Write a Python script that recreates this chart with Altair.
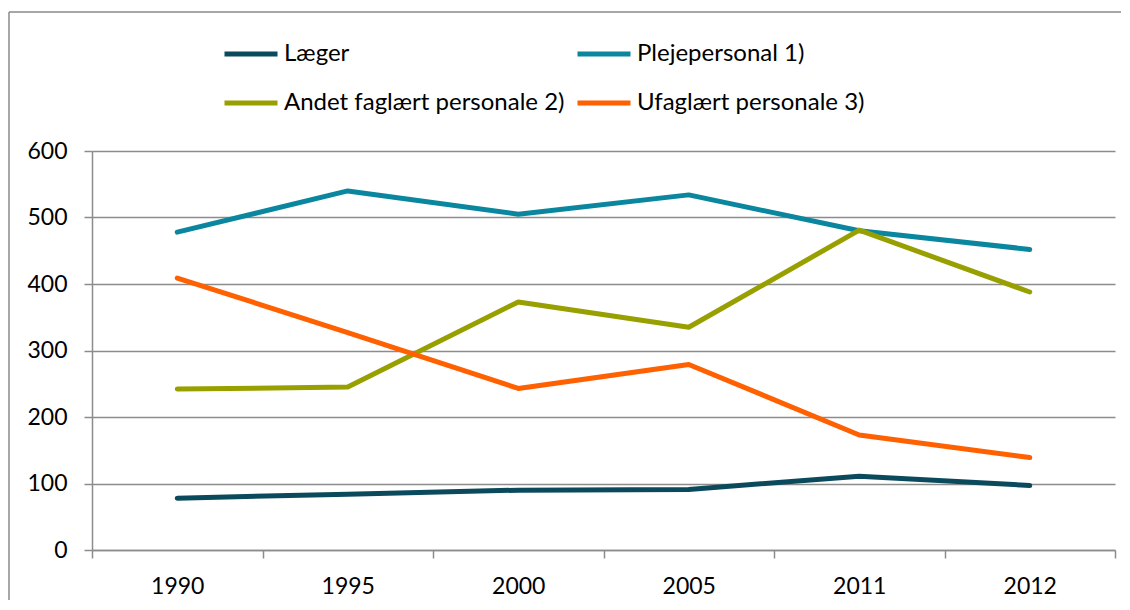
import altair as alt
import pandas as pd

years = ["1990", "1995", "2000", "2005", "2011", "2012"]
series = ["Læger", "Plejepersonal 1)", "Andet faglært personale 2)", "Ufaglært personale 3)"]
laeger = [78, 84, 90, 91, 111, 97]
pleje = [478, 540, 505, 534, 480, 452]
andet = [242, 245, 373, 335, 481, 388]
ufaglaert = [409, 327, 243, 279, 173, 139]
colors = ["#0B4A5C", "#0A879E", "#98A000", "#FF6000"]
y_ticks = [0, 100, 200, 300, 400, 500, 600]

rows = []
for name, vals in zip(series, [laeger, pleje, andet, ufaglaert]):
    for yr, v in zip(years, vals):
        rows.append({"year": yr, "series": name, "value": v})
df = pd.DataFrame(rows)

# legend fills column by column: order so that rows read Læger | Pleje, Andet | Ufaglært
legend_order = [series[0], series[2], series[1], series[3]]
legend_colors = [colors[0], colors[2], colors[1], colors[3]]

W, H = 1023, 399
RIGHT_PAD = 6
FONT = "Lato"
GRID = "#8c8c8c"
FRAME = "#8a8a8a"

lines = alt.Chart(df).mark_line(strokeWidth=5, strokeCap="round", strokeJoin="round").encode(
    x=alt.X("year:N", sort=years, bandPosition=0.5,
            scale=alt.Scale(type="band", paddingInner=0, paddingOuter=0),
            axis=alt.Axis(title=None, tickBand="extent", labelAngle=0, grid=False,
                          domainColor=GRID, domainWidth=1.5, tickColor=GRID, tickWidth=1.5,
                          tickSize=8, labelFont=FONT, labelFontSize=23, labelColor="#000",
                          labelPadding=17)),
    y=alt.Y("value:Q", scale=alt.Scale(domain=[0, 600], nice=False),
            axis=alt.Axis(title=None, values=y_ticks, grid=True, gridColor=GRID, gridWidth=1.5,
                          domainColor=GRID, domainWidth=1.5, tickColor=GRID, tickWidth=1.5,
                          tickSize=8, labelFont=FONT, labelFontSize=23, labelColor="#000",
                          labelPadding=17)),
    color=alt.Color("series:N", sort=legend_order,
                    scale=alt.Scale(domain=legend_order, range=legend_colors),
                    legend=alt.Legend(title=None, orient="none", legendX=130, legendY=-126,
                                      columns=2, symbolType="stroke", symbolSize=2809,
                                      symbolStrokeWidth=5, labelFont=FONT, labelFontSize=24,
                                      labelColor="#000", labelOffset=4, labelLimit=0,
                                      rowPadding=8, columnPadding=2)),
    detail="series:N",
)

frame_df = pd.DataFrame({"f": [0]})
frame_top = alt.Chart(frame_df).mark_rule(stroke=FRAME, strokeWidth=1.5).encode(
    x=alt.value(-83), x2=alt.value(W + RIGHT_PAD + 5), y=alt.value(-139)
)
frame_left = alt.Chart(frame_df).mark_rule(stroke=FRAME, strokeWidth=1.5).encode(
    x=alt.value(-83), y=alt.value(-139), y2=alt.value(H + 60)
)

chart = alt.layer(frame_top, frame_left, lines).properties(
    width=W, height=H,
    autosize=alt.AutoSizeParams(type="none"),
    padding={"left": 84, "top": 143, "right": RIGHT_PAD, "bottom": 50},
    background="white",
).configure_view(stroke=None)

chart.save("out.html", embed_options={"renderer": "svg", "actions": False})
